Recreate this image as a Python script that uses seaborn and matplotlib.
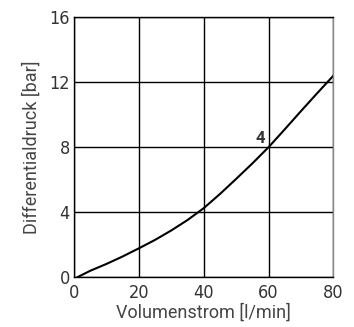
import matplotlib
matplotlib.use("Agg")
import matplotlib.pyplot as plt
import seaborn as sns
import pandas as pd
from matplotlib import font_manager
from matplotlib.font_manager import FontProperties

flow = [1, 5, 10, 15, 20, 25, 30, 35, 40, 45, 50, 55, 60, 65, 70, 75, 80]
pressure = [0.0, 0.4, 0.82, 1.28, 1.78, 2.3, 2.88, 3.52, 4.25, 5.12, 6.05, 7.0, 8.0, 9.1, 10.22, 11.32, 12.4]
xticks = [0, 20, 40, 60, 80]
yticks = [0, 4, 8, 12, 16]
curve_label = "4"

sns.set_theme(style="white")
names = {f.name for f in font_manager.fontManager.ttflist}
plt.rcParams['font.family'] = ['Roboto', 'DejaVu Sans']

if "Liberation Sans Narrow" in names:
    tick_fp = FontProperties(family="Liberation Sans Narrow", size=14)
else:
    tick_fp = FontProperties(family="DejaVu Sans", stretch="condensed", size=13)

df = pd.DataFrame({"x": flow, "y": pressure})
fig = plt.figure(figsize=(3.54, 3.27), dpi=100)
ax = fig.add_axes([0.209, 0.152, 0.733, 0.796])
sns.lineplot(data=df, x="x", y="y", ax=ax, color="black", linewidth=1.5)
ax.set_xlim(0, 80)
ax.set_ylim(0, 16)
ax.set_xticks(xticks)
ax.set_yticks(yticks)
ax.grid(True, color="black", linewidth=1.0)
for s in ax.spines.values():
    s.set_color("black")
    s.set_linewidth(1.0)
ax.spines['right'].set_color("#888888")
ax.tick_params(axis="x", length=0, pad=5, labelcolor="#333333")
ax.tick_params(axis="y", length=0, pad=3, labelcolor="#333333")
for lab in ax.get_xticklabels() + ax.get_yticklabels():
    lab.set_fontproperties(tick_fp)
ax.set_xlabel("Volumenstrom [l/min]", fontsize=13, color="#444444", labelpad=1)
ax.set_ylabel("Differentialdruck [bar]", fontsize=13, color="#444444", labelpad=6)
ax.text(58.8, 8.1, curve_label, fontsize=12, fontweight="bold", color="#333333", ha="right", va="bottom")
fig.savefig("out.png", dpi=100)
